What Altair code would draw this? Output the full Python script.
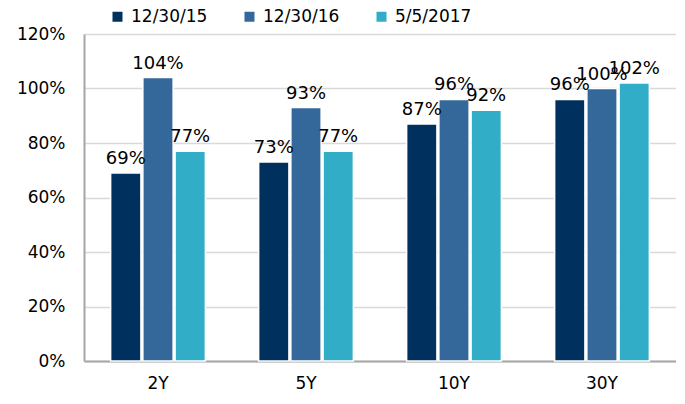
import altair as alt
import pandas as pd

categories = ["2Y", "5Y", "10Y", "30Y"]
series = ["12/30/15", "12/30/16", "5/5/2017"]
values = {
    "12/30/15": [69, 73, 87, 96],
    "12/30/16": [104, 93, 96, 100],
    "5/5/2017": [77, 77, 92, 102],
}
colors = ["#00305E", "#35689A", "#31ADC8"]

rows = []
for s in series:
    for c, v in zip(categories, values[s]):
        rows.append({"cat": c, "series": s, "value": v / 100.0, "label": f"{v}%"})
df = pd.DataFrame(rows)

FONT = "DejaVu Sans"

x = alt.X("cat:N", sort=categories, title=None,
          scale=alt.Scale(paddingInner=0.36, paddingOuter=0.18),
          axis=alt.Axis(labelAngle=0, labelFontSize=17, labelPadding=14, ticks=False,
                        domainColor="#A6A6A6", domainWidth=2, labelColor="#000000"))
xo = alt.XOffset("series:N", sort=series, scale=alt.Scale(paddingInner=0.06))

bars = alt.Chart(df).mark_bar(stroke="white", strokeWidth=1.5).encode(
    x=x,
    xOffset=xo,
    y=alt.Y("value:Q", title=None,
            scale=alt.Scale(domain=[0, 1.2], nice=False),
            axis=alt.Axis(format=".0%", values=[0, 0.2, 0.4, 0.6, 0.8, 1.0, 1.2],
                          labelFontSize=17, labelPadding=19, ticks=False,
                          domainColor="#A6A6A6", domainWidth=2,
                          grid=True, gridColor="#D9D9D9", gridWidth=1.5,
                          labelColor="#000000")),
    color=alt.Color("series:N", sort=series, title=None,
                    scale=alt.Scale(domain=series, range=colors),
                    legend=alt.Legend(orient="none", legendX=25, legendY=-26, direction="horizontal",
                                      symbolType="square", symbolSize=100, labelFontSize=17,
                                      columnPadding=33, symbolStrokeWidth=0, labelOffset=5,
                                      labelColor="#000000")),
)

text = alt.Chart(df).mark_text(baseline="bottom", dy=-5, fontSize=18, color="#000000").encode(
    x=x,
    xOffset=xo,
    y="value:Q",
    text="label:N",
)

chart = (bars + text).properties(width=592, height=327).configure(
    font=FONT
).configure_view(stroke=None).properties(padding={"left": 8, "top": 0, "right": 0, "bottom": 0})

chart.save("out.html", embed_options={"renderer": "svg", "actions": False})
